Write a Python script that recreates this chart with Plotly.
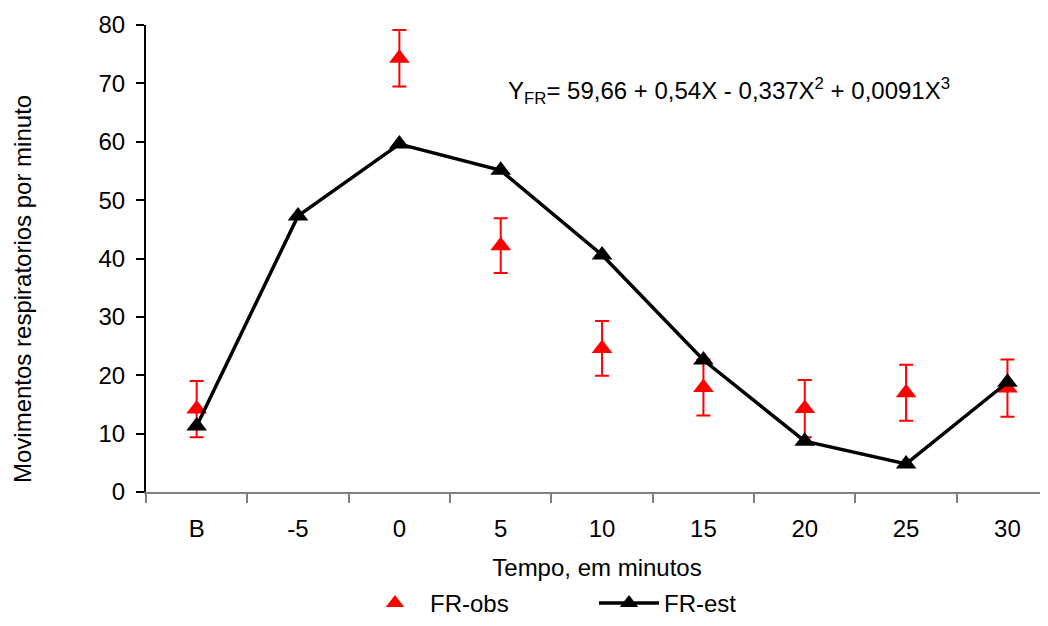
import plotly.graph_objects as go

categories = ["B", "-5", "0", "5", "10", "15", "20", "25", "30"]
fr_obs = [14.2, None, 74.3, 42.2, 24.6, 17.9, 14.3, 17.0, 17.8]
fr_obs_err = [4.8, None, 4.85, 4.7, 4.7, 4.8, 4.9, 4.8, 4.9]
fr_est = [11.3, 47.3, 59.6, 55.1, 40.6, 22.6, 8.7, 4.8, 18.8]

FONT = "Liberation Sans, Arial, sans-serif"
FS = 24

# page has an 8px body margin; figure spans page pixels 8..1048 x 8..626
OFF = 8
W, H = 1048 - OFF, 626 - OFF
L, R, T = 146 - OFF, 0, 25 - OFF
B = H - (492 - OFF)
PW, PH = W - L - R, H - T - B


def px_x(page_x):
    return (page_x - OFF - L) / PW


def px_y(page_y):
    return (H - B - (page_y - OFF)) / PH


fig = go.Figure()
fig.add_trace(go.Scatter(
    x=categories, y=fr_obs, name="FR-obs", mode="markers",
    marker=dict(symbol="triangle-up", size=18, color="#ff0000"),
    error_y=dict(type="data", array=fr_obs_err, color="#ff0000", thickness=2, width=7),
))
fig.add_trace(go.Scatter(
    x=categories, y=fr_est, name="FR-est", mode="lines+markers",
    line=dict(color="black", width=3.5),
    marker=dict(symbol="triangle-up", size=18, color="black"),
))

fig.add_annotation(
    x=px_x(506), y=px_y(91), xref="paper", yref="paper", showarrow=False,
    text="Y<sub>FR</sub>= 59,66 + 0,54X - 0,337X<sup>2</sup> + 0,0091X<sup>3</sup>",
    font=dict(family=FONT, size=FS, color="black"), xanchor="left", yanchor="middle",
)
fig.add_annotation(
    x=px_x(22), y=px_y(289), xref="paper", yref="paper",
    showarrow=False, text="Movimentos respiratorios por minuto", textangle=-90,
    font=dict(family=FONT, size=FS, color="black"), xanchor="center", yanchor="middle",
)

fig.update_layout(
    width=W, height=H,
    margin=dict(l=L, r=R, t=T, b=B, autoexpand=False),
    paper_bgcolor="white", plot_bgcolor="white",
    font=dict(family=FONT, size=FS, color="black"),
    showlegend=True,
    legend=dict(
        orientation="h", xref="container", yref="container",
        x=(360 - OFF) / W, xanchor="left", y=-0.012, yanchor="bottom",
        itemwidth=60, entrywidth=159, entrywidthmode="pixels",
        font=dict(family=FONT, size=FS, color="black"),
        bgcolor="rgba(0,0,0,0)",
    ),
    xaxis=dict(
        type="category", range=[-0.5, 8.40], automargin=False,
        showline=True, linecolor="#808080", linewidth=2,
        ticks="outside", tickson="boundaries", ticklen=9, tickcolor="#808080", tickwidth=2,
        showgrid=False, zeroline=False, ticklabelstandoff=14,
        tickfont=dict(family=FONT, size=FS, color="black"),
        title=dict(text="Tempo, em minutos", font=dict(family=FONT, size=FS, color="black"), standoff=27),
    ),
    yaxis=dict(
        range=[0, 80], tickvals=[0, 10, 20, 30, 40, 50, 60, 70, 80], automargin=False,
        showline=True, linecolor="black", linewidth=2,
        ticks="outside", ticklen=8, tickcolor="black", tickwidth=2,
        showgrid=False, zeroline=False, ticklabelstandoff=6,
        tickfont=dict(family=FONT, size=FS, color="black"),
    ),
)

fig.write_html("out.html")
